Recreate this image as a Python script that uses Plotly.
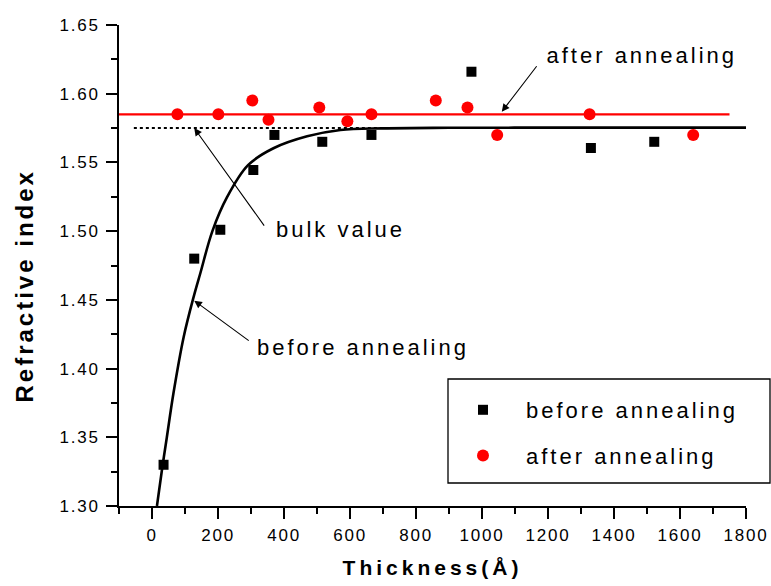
import plotly.graph_objects as go

# ---- data ----
thick_before = [35, 128, 207, 307, 371, 516, 665, 968, 1330, 1522]
n_before = [1.330, 1.480, 1.501, 1.5445, 1.570, 1.565, 1.570, 1.616, 1.5605, 1.565]

thick_after = [77, 201, 304, 353, 507, 592, 665, 860, 956, 1046, 1326, 1640]
n_after = [1.585, 1.585, 1.595, 1.581, 1.590, 1.580, 1.585, 1.595, 1.590, 1.570, 1.585, 1.570]

fit_thick = [15, 30, 45, 65, 96, 126, 146, 183, 227, 291, 368, 470, 571, 700, 900, 1200, 1500, 1800]
fit_n = [1.300, 1.326, 1.350, 1.382, 1.423, 1.452, 1.469, 1.500, 1.5245, 1.548, 1.5603,
         1.5690, 1.5736, 1.5748, 1.5752, 1.5753, 1.5753, 1.5753]

after_level_thick = [-100, 1750]
after_level_n = [1.585, 1.585]

bulk_thick = [-55, 1800]
bulk_n = [1.575, 1.575]

FONT = "Liberation Sans, Arial, Helvetica, sans-serif"

fig = go.Figure()

fig.add_trace(go.Scatter(x=fit_thick, y=fit_n, mode="lines",
                         line=dict(color="black", width=2.6, shape="spline", smoothing=1.0),
                         showlegend=False, hoverinfo="skip"))
fig.add_trace(go.Scatter(x=bulk_thick, y=bulk_n, mode="lines", line=dict(color="black", width=2, dash="dot"),
                         showlegend=False, hoverinfo="skip"))
fig.add_trace(go.Scatter(x=after_level_thick, y=after_level_n, mode="lines", line=dict(color="#ff0000", width=2.2),
                         showlegend=False, hoverinfo="skip"))
fig.add_trace(go.Scatter(x=thick_before, y=n_before, mode="markers", name="before annealing",
                         legendgroup="a",
                         marker=dict(symbol="square", size=10, color="black")))
fig.add_trace(go.Scatter(x=thick_after, y=n_after, mode="markers", name="after annealing",
                         legendgroup="b",
                         marker=dict(symbol="circle", size=12, color="#ff0000")))

L, R, T, B = 119, 25, 25, 80
W, H = 771, 586
pw, ph = W - L - R, H - T - B

def px(xp):
    return (xp - L) / pw

def py(yp):
    return (H - B - yp) / ph

axis_common = dict(showline=True, linecolor="black", linewidth=1.6, ticks="outside", ticklen=11,
                   tickwidth=1.5, tickcolor="black", showgrid=False, zeroline=False,
                   tickfont=dict(family=FONT, size=17, color="black"))

fig.update_xaxes(range=[-100, 1800], tick0=0, dtick=200,
                 minor=dict(dtick=100, ticks="outside", ticklen=6, tickwidth=1.5, tickcolor="black"),
                 title=dict(text="<b>Thickness(Å)</b>", font=dict(family=FONT, size=21, color="black"), standoff=16),
                 ticklabelstandoff=2,
                 **axis_common)
fig.update_yaxes(range=[1.30, 1.65], tick0=1.30, dtick=0.05, tickformat=".2f",
                 minor=dict(dtick=0.025, ticks="outside", ticklen=6, tickwidth=1.5, tickcolor="black"),
                 ticklabelstandoff=3,
                 **axis_common)

ann_font = dict(family=FONT, size=22, color="black")
annotations = [
    # y title
    dict(text="<b>Refractive index</b>", xref="paper", yref="paper", x=px(24), y=py(285.5),
         xanchor="center", yanchor="middle",
         textangle=-90, showarrow=False, font=dict(family=FONT, size=24, color="black")),
    # text labels
    dict(text="bulk value", x=570, y=1.5015, xref="x", yref="y", showarrow=False, font=ann_font),
    dict(text="before annealing", x=640, y=1.4157, xref="x", yref="y", showarrow=False, font=ann_font),
    dict(text="after annealing", x=1485, y=1.628, xref="x", yref="y", showarrow=False, font=ann_font),
    # arrows
    dict(text="", x=128, y=1.575, xref="x", yref="y", ax=71, ay=99, showarrow=True,
         arrowhead=2, arrowsize=1.4, arrowwidth=1.1, arrowcolor="black"),
    dict(text="", x=128, y=1.4494, xref="x", yref="y", ax=56, ay=41, showarrow=True,
         arrowhead=2, arrowsize=1.4, arrowwidth=1.1, arrowcolor="black"),
    dict(text="", x=1060, y=1.5869, xref="x", yref="y", ax=36, ay=-47, showarrow=True,
         arrowhead=2, arrowsize=1.4, arrowwidth=1.1, arrowcolor="black"),
]

shapes = [dict(type="rect", xref="paper", yref="paper", x0=px(448), x1=px(770), y0=py(483), y1=py(379),
               line=dict(color="black", width=1.3), fillcolor="rgba(0,0,0,0)")]

fig.update_layout(
    width=W, height=H,
    margin=dict(l=L, r=R, t=T, b=B, autoexpand=False),
    paper_bgcolor="white", plot_bgcolor="white",
    font=dict(family=FONT, color="black"),
    annotations=annotations,
    shapes=shapes,
    legend=dict(x=px(440), y=py(389), xanchor="left", yanchor="top",
                bgcolor="rgba(0,0,0,0)", borderwidth=0,
                font=dict(family=FONT, size=22, color="black"),
                traceorder="grouped", tracegroupgap=14, itemwidth=76),
    showlegend=True,
)

post = """
var gd = document.getElementById('{plot_id}');
function ls(sel, v){ gd.querySelectorAll(sel).forEach(function(t){ t.style.letterSpacing = v; }); }
ls('.xtick text', '1.8px');
ls('.ytick text', '1.8px');
ls('text.annotation-text', '3px');
ls('text.legendtext', '3px');
ls('text.xtitle', '4px');
gd.querySelectorAll('.legend [clip-path]').forEach(function(e){ e.removeAttribute('clip-path'); });
gd.querySelectorAll('.legend').forEach(function(e){ e.style.overflow = 'visible'; });
"""

fig.write_html("out.html", post_script=post)
